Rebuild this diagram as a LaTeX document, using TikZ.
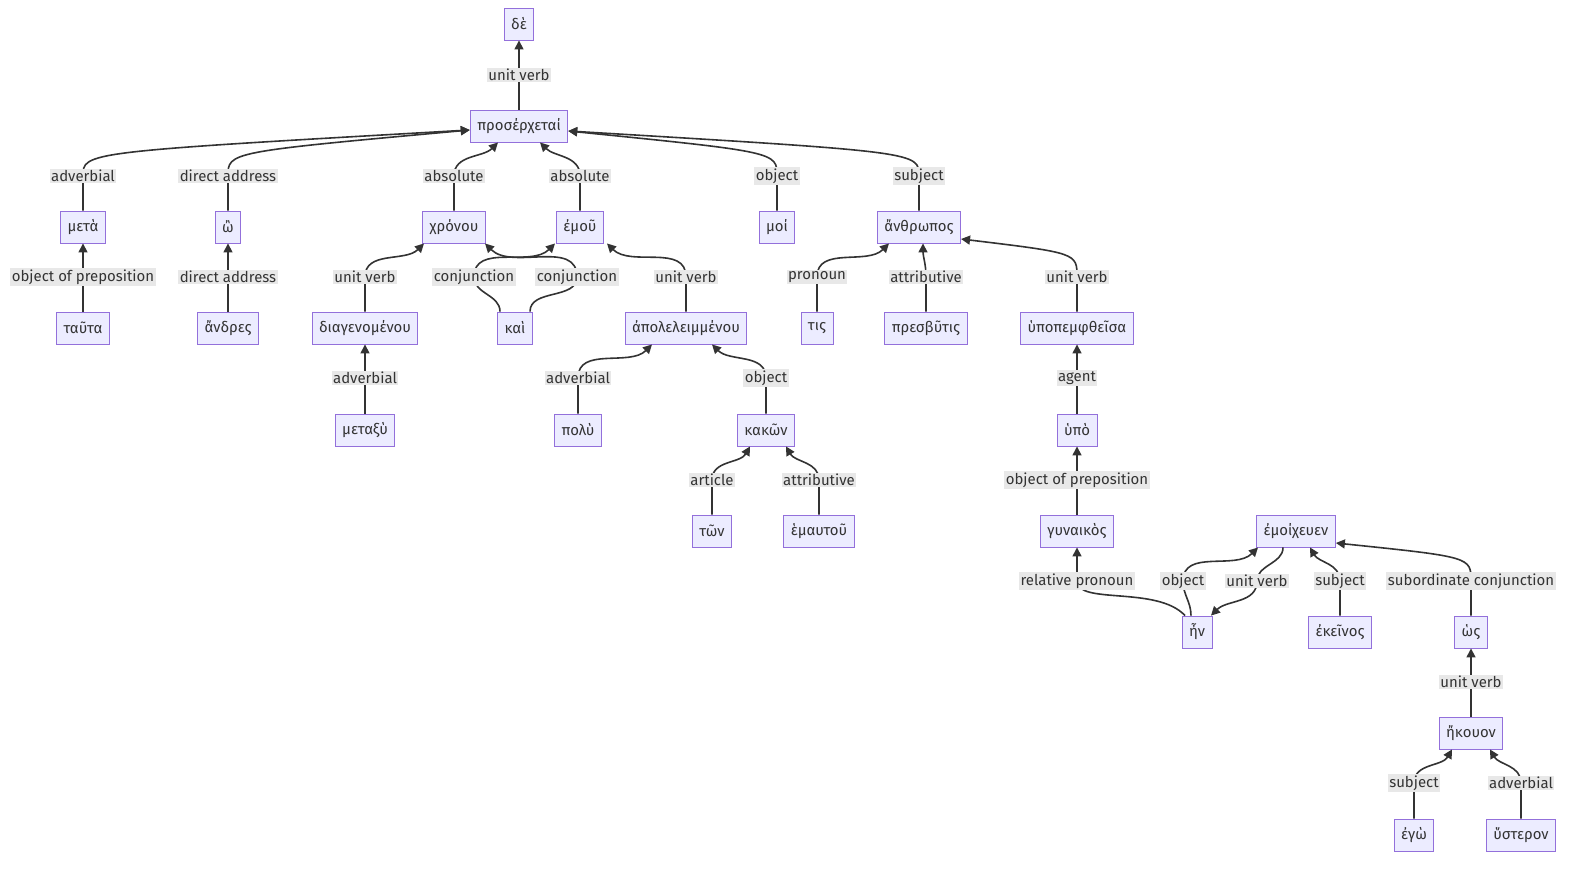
\documentclass[tikz,border=0pt]{standalone}
\usepackage{fontspec}
\setmainfont{Fira Sans}
\usetikzlibrary{arrows.meta,calc}
\definecolor{nfill}{HTML}{ECECFF}
\definecolor{ndraw}{HTML}{9370DB}
\definecolor{lfill}{HTML}{E8E8E8}
\definecolor{ink}{HTML}{333333}
\tikzset{
 wbox/.style={draw=ndraw,fill=nfill,line width=0.9bp,minimum height=32bp,inner xsep=7bp,text=ink,font=\fontsize{15}{18}\selectfont},
 lbl/.style={fill=lfill,inner sep=1.5bp,text=ink,font=\fontsize{15}{18}\selectfont},
 edge/.style={draw=ink,line width=1.6bp,-{Triangle[length=9bp,width=9bp]}}
}
\newcommand\myedge[6]{%
 \draw[edge] (#1) to[out=90,in=-90] (#4) to[out=90,in=#6] (#5);
 \node[lbl] (#2) at (#4) {#3};}
\newcommand\sideedge[5]{%
 \draw[edge] (#1) to[out=90,in=-90] (#4) .. controls ($(#4)+(0,-24)$) .. (#5);
 \node[lbl] (#2) at (#4) {#3};}
\begin{document}
\begin{tikzpicture}[x=1bp,y=-1bp]
\useasboundingbox (0,0) rectangle (1595,874);
\node[wbox] (de) at (519,24) {δὲ};
\node[wbox] (pros) at (519,126) {προσέρχεταί};
\node[wbox] (meta) at (83,227) {μετὰ};
\node[wbox] (o) at (228,227) {ὢ};
\node[wbox] (chr) at (454,227) {χρόνου};
\node[wbox] (emou) at (580,227) {ἐμοῦ};
\node[wbox] (moi) at (777,227) {μοί};
\node[wbox] (anth) at (919,227) {ἄνθρωπος};
\node[wbox] (tauta) at (83,328) {ταῦτα};
\node[wbox] (andr) at (228,328) {ἄνδρες};
\node[wbox] (diag) at (365,328) {διαγενομένου};
\node[wbox] (kai) at (515,328) {καὶ};
\node[wbox] (apol) at (686,328) {ἀπολελειμμένου};
\node[wbox] (tis) at (817,328) {τις};
\node[wbox] (presb) at (926,328) {πρεσβῦτις};
\node[wbox] (hypop) at (1077,328) {ὑποπεμφθεῖσα};
\node[wbox] (metaxy) at (365,430) {μεταξὺ};
\node[wbox] (poly) at (578,430) {πολὺ};
\node[wbox] (kakon) at (766,430) {κακῶν};
\node[wbox] (hypo) at (1077,430) {ὑπὸ};
\node[wbox] (ton) at (712,531) {τῶν};
\node[wbox] (emaut) at (819,531) {ἑμαυτοῦ};
\node[wbox] (gyn) at (1077,531) {γυναικὸς};
\node[wbox] (emoich) at (1296,531) {ἐμοίχευεν};
\node[wbox] (en) at (1197,632) {ἦν};
\node[wbox] (ekein) at (1340,632) {ἐκεῖνος};
\node[wbox] (hos) at (1471,632) {ὡς};
\node[wbox] (ekouon) at (1471,733) {ἤκουον};
\node[wbox] (ego) at (1414,835) {ἐγὼ};
\node[wbox] (hyst) at (1521,835) {ὕστερον};

\myedge{pros.north}{l1}{unit verb}{519,75}{de.south}{-90}
\sideedge{meta.north}{l2}{adverbial}{83,176}{$(pros.west)+(0,4)$}
\sideedge{o.north}{l3}{direct address}{228,176}{$(pros.west)+(0,4)$}
\myedge{chr.north}{l4}{absolute}{454,176}{$(pros.south)+(-21,0)$}{-135}
\myedge{emou.north}{l5}{absolute}{580,176}{$(pros.south)+(21,0)$}{-45}
\sideedge{moi.north}{l6}{object}{777,176}{$(pros.east)+(0,5)$}
\sideedge{anth.north}{l7}{subject}{919,176}{$(pros.east)+(0,5)$}
\myedge{tauta.north}{l8}{object of preposition}{83,277}{meta.south}{-90}
\myedge{andr.north}{l9}{direct address}{228,277}{o.south}{-90}
\myedge{diag.north}{l10}{unit verb}{365,277}{$(chr.south)+(-30,0)$}{-135}
\myedge{$(kai.north)+(-15,0)$}{l11}{conjunction}{474,277}{$(emou.south)+(-25,0)$}{-135}
\myedge{$(kai.north)+(15,0)$}{l12}{conjunction}{577,277}{$(chr.south)+(31,0)$}{-45}
\myedge{apol.north}{l13}{unit verb}{686,277}{$(emou.south)+(27,0)$}{-45}
\myedge{tis.north}{l14}{pronoun}{817,277}{$(anth.south)+(-30,0)$}{-135}
\myedge{presb.north}{l15}{attributive}{926,277}{$(anth.south)+(4,0)$}{-90}
\sideedge{hypop.north}{l16}{unit verb}{1077,277}{$(anth.east)+(0,12)$}
\myedge{metaxy.north}{l17}{adverbial}{365,378}{diag.south}{-90}
\myedge{poly.north}{l18}{adverbial}{578,378}{$(apol.south)+(-34,0)$}{-135}
\myedge{kakon.north}{l19}{object}{766,378}{$(apol.south)+(26,0)$}{-45}
\myedge{hypo.north}{l20}{agent}{1077,378}{hypop.south}{-90}
\myedge{ton.north}{l21}{article}{712,480}{$(kakon.south)+(-16,0)$}{-120}
\myedge{emaut.north}{l22}{attributive}{819,480}{$(kakon.south)+(20,0)$}{-60}
\myedge{gyn.north}{l23}{object of preposition}{1077,480}{hypo.south}{-90}
\draw[edge] ($(en.north)+(-12,0)$) .. controls ($(en.north)+(-40,-30)$) and (1077,605) .. (1077,581) -- (gyn.south);
\node[lbl] (l24) at (1077,581) {relative pronoun};
\myedge{$(en.north)+(-6,0)$}{l25}{object}{1183,581}{$(emoich.south)+(-38,0)$}{-135}
\draw[edge] ($(emoich.south)+(-13,0)$) to[out=-90,in=90] (1257,581) to[out=-90,in=45] ($(en.north)+(14,0)$);
\node[lbl] (l26) at (1257,581) {unit verb};
\myedge{ekein.north}{l27}{subject}{1340,581}{$(emoich.south)+(14,0)$}{-60}
\sideedge{hos.north}{l28}{subordinate conjunction}{1471,581}{$(emoich.east)+(0,12)$}
\myedge{ekouon.north}{l29}{unit verb}{1471,682}{hos.south}{-90}
\myedge{ego.north}{l30}{subject}{1414,783}{$(ekouon.south)+(-19,0)$}{-120}
\myedge{hyst.north}{l31}{adverbial}{1521,783}{$(ekouon.south)+(19,0)$}{-60}
\end{tikzpicture}
\end{document}
